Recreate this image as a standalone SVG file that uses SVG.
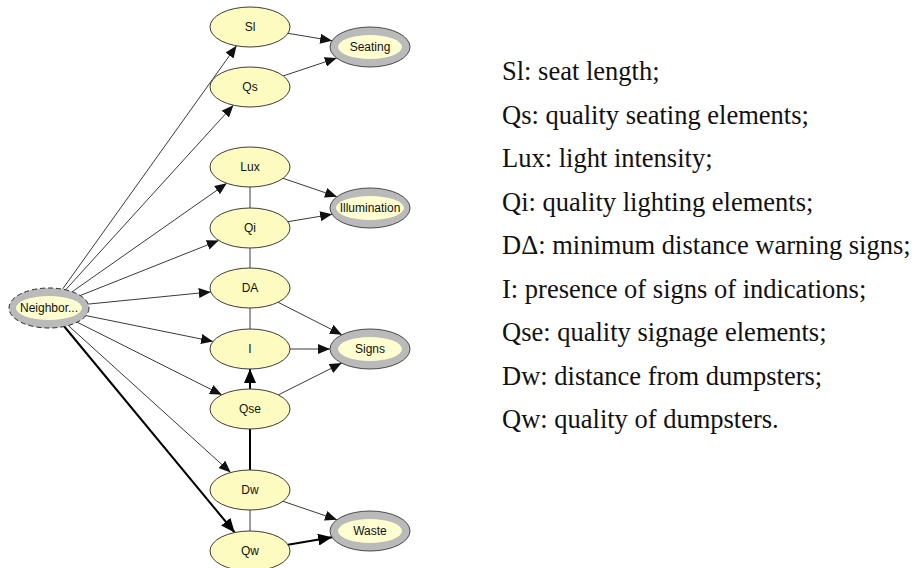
<svg xmlns="http://www.w3.org/2000/svg" width="915" height="568" viewBox="0 0 915 568">
  <defs>
    <marker id="arr" viewBox="0 0 12 10" refX="12" refY="5" markerWidth="12" markerHeight="10" markerUnits="userSpaceOnUse" orient="auto">
      <path d="M0,0 L12,5 L0,10 z" fill="#111"/>
    </marker>
    <marker id="arrBold" viewBox="0 0 14 12" refX="14" refY="6" markerWidth="14" markerHeight="12" markerUnits="userSpaceOnUse" orient="auto">
      <path d="M0,0 L14,6 L0,12 z" fill="#000"/>
    </marker>
  </defs>
  <style>
    .bg { fill: #ffffff; }
    .var { fill: #fdfbc0; stroke: #3c3c3c; stroke-width: 1; }
    .ring { fill: #bababa; stroke: #4a4a4a; stroke-width: 1; }
    .ring-in { fill: #fefed0; stroke: none; }
    .dashed { stroke-dasharray: 5 3; stroke: #2a2a2a; }
    .lbl { font-family: "Liberation Sans", Arial, sans-serif; font-size: 12px; fill: #111; text-anchor: middle; }
    .edge { stroke: #3a3a3a; stroke-width: 1; fill: none; }
    .edge-bold { stroke: #000; stroke-width: 2; fill: none; }
    .legend { font-family: "Liberation Serif", "Times New Roman", serif; font-size: 26.5px; fill: #111; }
  </style>
  <rect class="bg" x="0" y="0" width="915" height="568"/>

  <!-- connectors -->
  <g id="connectors">
    <!-- from the neighborhood node -->
    <line class="edge" x1="62.5" y1="289.2" x2="236.5" y2="45.8" marker-end="url(#arr)"/>
    <line class="edge" x1="65.6" y1="289.8" x2="233.4" y2="105.2" marker-end="url(#arr)"/>
    <line class="edge" x1="72.2" y1="291.7" x2="226.8" y2="183.3" marker-end="url(#arr)"/>
    <line class="edge" x1="80.3" y1="295.5" x2="218.7" y2="240.5" marker-end="url(#arr)"/>
    <line class="edge" x1="88.2" y1="304.1" x2="210.8" y2="291.9" marker-end="url(#arr)"/>
    <line class="edge" x1="86" y1="315.6" x2="213" y2="341.4" marker-end="url(#arr)"/>
    <line class="edge" x1="77.2" y1="322.2" x2="221.8" y2="394.8" marker-end="url(#arr)"/>
    <line class="edge" x1="68.3" y1="325.5" x2="230.7" y2="472.5" marker-end="url(#arr)"/>
    <line class="edge-bold" x1="64.3" y1="326.5" x2="234.7" y2="532.5" marker-end="url(#arrBold)"/>

    <!-- into the aggregate nodes -->
    <line class="edge" x1="287.9" y1="33.3" x2="332.1" y2="40.7" marker-end="url(#arr)"/>
    <line class="edge" x1="283.3" y1="75.9" x2="336.7" y2="58.1" marker-end="url(#arr)"/>
    <line class="edge" x1="283" y1="178.3" x2="337" y2="196.7" marker-end="url(#arr)"/>
    <line class="edge" x1="287.9" y1="221.7" x2="332.1" y2="214.3" marker-end="url(#arr)"/>
    <line class="edge" x1="278.1" y1="302.3" x2="341.9" y2="334.7" marker-end="url(#arr)"/>
    <line class="edge" x1="290" y1="349" x2="330" y2="349" marker-end="url(#arr)"/>
    <line class="edge" x1="278.3" y1="394.9" x2="341.7" y2="363.1" marker-end="url(#arr)"/>
    <line class="edge" x1="283" y1="501.3" x2="337" y2="519.7" marker-end="url(#arr)"/>
    <line class="edge-bold" x1="287.9" y1="544.7" x2="332.1" y2="537.3" marker-end="url(#arrBold)"/>

    <!-- vertical links in the middle column -->
    <line class="edge-bold" x1="250" y1="389" x2="250" y2="369" marker-end="url(#arrBold)"/>
    <line class="edge" x1="250" y1="187" x2="250" y2="208"/>
    <line class="edge" x1="250" y1="248" x2="250" y2="268"/>
    <line class="edge" x1="250" y1="308" x2="250" y2="329"/>
    <line class="edge-bold" x1="250" y1="429" x2="250" y2="470"/>
    <line class="edge" x1="250" y1="510" x2="250" y2="531"/>
  </g>

  <!-- root node -->
  <g id="node-neighbor">
    <ellipse class="ring dashed" cx="49" cy="308" rx="40" ry="20"/>
    <ellipse class="ring-in" cx="49" cy="308" rx="33" ry="12"/>
    <text class="lbl" x="49" y="312">Neighbor...</text>
  </g>

  <!-- indicator nodes -->
  <g id="node-sl">
    <ellipse class="var" cx="250" cy="27" rx="40" ry="20"/>
    <text class="lbl" x="250" y="31">Sl</text>
  </g>
  <g id="node-qs">
    <ellipse class="var" cx="250" cy="87" rx="40" ry="20"/>
    <text class="lbl" x="250" y="91">Qs</text>
  </g>
  <g id="node-lux">
    <ellipse class="var" cx="250" cy="167" rx="40" ry="20"/>
    <text class="lbl" x="250" y="171">Lux</text>
  </g>
  <g id="node-qi">
    <ellipse class="var" cx="250" cy="228" rx="40" ry="20"/>
    <text class="lbl" x="250" y="232">Qi</text>
  </g>
  <g id="node-da">
    <ellipse class="var" cx="250" cy="288" rx="40" ry="20"/>
    <text class="lbl" x="250" y="292">DA</text>
  </g>
  <g id="node-i">
    <ellipse class="var" cx="250" cy="349" rx="40" ry="20"/>
    <text class="lbl" x="250" y="353">I</text>
  </g>
  <g id="node-qse">
    <ellipse class="var" cx="250" cy="409" rx="40" ry="20"/>
    <text class="lbl" x="250" y="413">Qse</text>
  </g>
  <g id="node-dw">
    <ellipse class="var" cx="250" cy="490" rx="40" ry="20"/>
    <text class="lbl" x="250" y="494">Dw</text>
  </g>
  <g id="node-qw">
    <ellipse class="var" cx="250" cy="551" rx="40" ry="20"/>
    <text class="lbl" x="250" y="555">Qw</text>
  </g>

  <!-- aggregate nodes -->
  <g id="node-seating">
    <ellipse class="ring" cx="370" cy="47" rx="40" ry="20"/>
    <ellipse class="ring-in" cx="370" cy="47" rx="32" ry="12"/>
    <text class="lbl" x="370" y="51">Seating</text>
  </g>
  <g id="node-illumination">
    <ellipse class="ring" cx="370" cy="208" rx="40" ry="20"/>
    <ellipse class="ring-in" cx="370" cy="208" rx="34" ry="12"/>
    <text class="lbl" x="370" y="212">Illumination</text>
  </g>
  <g id="node-signs">
    <ellipse class="ring" cx="370" cy="349" rx="40" ry="20"/>
    <ellipse class="ring-in" cx="370" cy="349" rx="32" ry="12"/>
    <text class="lbl" x="370" y="353">Signs</text>
  </g>
  <g id="node-waste">
    <ellipse class="ring" cx="370" cy="531" rx="40" ry="20"/>
    <ellipse class="ring-in" cx="370" cy="531" rx="32" ry="12"/>
    <text class="lbl" x="370" y="535">Waste</text>
  </g>

  <!-- legend -->
  <g id="legend">
    <text class="legend" x="502" y="80">Sl: seat length;</text>
    <text class="legend" x="502" y="123.5">Qs: quality seating elements;</text>
    <text class="legend" x="502" y="167">Lux: light intensity;</text>
    <text class="legend" x="502" y="210.5">Qi: quality lighting elements;</text>
    <text class="legend" x="502" y="254">DΔ: minimum distance warning signs;</text>
    <text class="legend" x="502" y="297.5">I: presence of signs of indications;</text>
    <text class="legend" x="502" y="341">Qse: quality signage elements;</text>
    <text class="legend" x="502" y="384.5">Dw: distance from dumpsters;</text>
    <text class="legend" x="502" y="428">Qw: quality of dumpsters.</text>
  </g>
</svg>
